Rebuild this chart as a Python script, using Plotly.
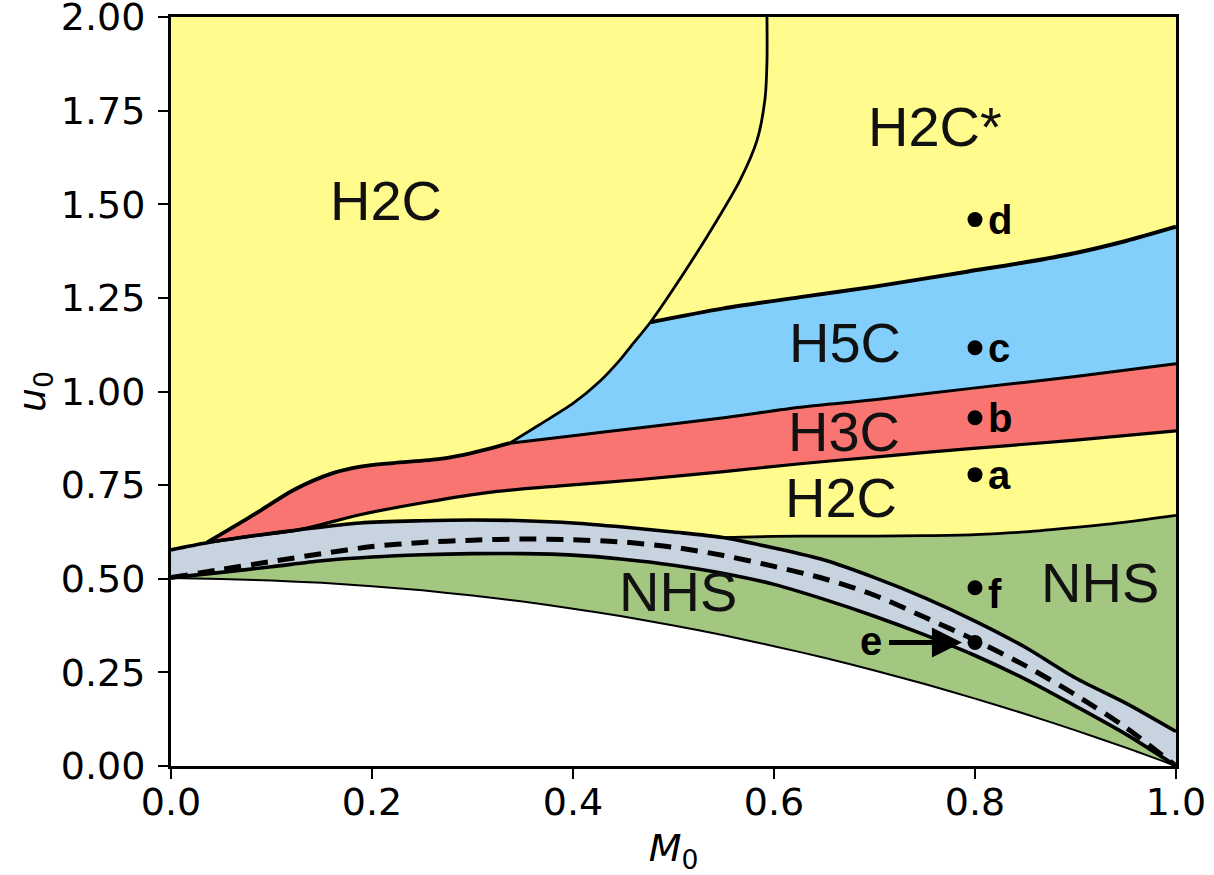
import plotly.graph_objects as go

# ---------------- data ----------------
# lower edge of NHS region (white below)
white_x = [0, 0.05, 0.1, 0.15, 0.2, 0.25, 0.3, 0.35, 0.4, 0.45, 0.5, 0.55, 0.6, 0.65, 0.7, 0.75, 0.8, 0.85, 0.9, 0.95, 1.0]
white_y = [0.502, 0.499, 0.495, 0.489, 0.48, 0.469, 0.455, 0.439, 0.42, 0.399, 0.375, 0.349, 0.32, 0.289, 0.255, 0.219, 0.18, 0.139, 0.095, 0.049, 0.0]

# grey band: lower edge, dashed centre line, upper edge
glow_x = [0, 0.05, 0.1, 0.15, 0.2, 0.25, 0.3, 0.35, 0.4, 0.45, 0.5, 0.55, 0.6, 0.65, 0.7, 0.75, 0.8, 0.85, 0.9, 0.95, 1.0]
glow_y = [0.503, 0.517, 0.532, 0.548, 0.558, 0.564, 0.567, 0.567, 0.563, 0.552, 0.536, 0.514, 0.485, 0.445, 0.4, 0.35, 0.295, 0.232, 0.16, 0.085, 0.0]

dash_x = [0, 0.05, 0.1, 0.15, 0.2, 0.25, 0.3, 0.35, 0.4, 0.45, 0.5, 0.55, 0.6, 0.65, 0.7, 0.75, 0.8, 0.85, 0.9, 0.95, 1.0]
dash_y = [0.503, 0.525, 0.546, 0.567, 0.586, 0.597, 0.603, 0.606, 0.604, 0.598, 0.584, 0.562, 0.533, 0.5, 0.456, 0.397, 0.336, 0.268, 0.19, 0.103, 0.0]

gup_x = [0, 0.036, 0.08, 0.128, 0.188, 0.25, 0.3, 0.35, 0.4, 0.45, 0.5, 0.549, 0.6, 0.65, 0.7, 0.75, 0.8, 0.85, 0.9, 0.95, 1.0]
gup_y = [0.577, 0.596, 0.614, 0.631, 0.649, 0.655, 0.657, 0.655, 0.649, 0.638, 0.625, 0.61, 0.582, 0.55, 0.503, 0.449, 0.387, 0.317, 0.235, 0.168, 0.092]

# H2C / NHS boundary on the right
gtop_x = [0.549, 0.6, 0.65, 0.7, 0.75, 0.8, 0.85, 0.9, 0.95, 1.0]
gtop_y = [0.61, 0.613, 0.614, 0.614, 0.615, 0.618, 0.625, 0.637, 0.651, 0.669]

# H3C band
rlow_x = [0.036, 0.08, 0.128, 0.188, 0.255, 0.321, 0.387, 0.467, 0.55, 0.626, 0.7, 0.792, 0.9, 1.0]
rlow_y = [0.597, 0.614, 0.631, 0.671, 0.705, 0.732, 0.748, 0.765, 0.786, 0.807, 0.825, 0.847, 0.87, 0.895]

rup_x = [0.036, 0.06, 0.089, 0.122, 0.161, 0.19, 0.221, 0.268, 0.3, 0.337]
rup_y = [0.597, 0.635, 0.682, 0.737, 0.782, 0.800, 0.809, 0.820, 0.836, 0.862]

# H3C / H5C boundary
br_x = [0.337, 0.4, 0.467, 0.55, 0.626, 0.7, 0.792, 0.9, 1.0]
br_y = [0.862, 0.882, 0.903, 0.93, 0.958, 0.978, 1.007, 1.04, 1.074]

# H2C / (H5C, H2C*) boundary
bl_x = [0.337, 0.367, 0.40, 0.427, 0.447, 0.458, 0.477, 0.51, 0.543, 0.566, 0.583, 0.591, 0.593, 0.593]
bl_y = [0.862, 0.912, 0.968, 1.028, 1.085, 1.122, 1.185, 1.315, 1.456, 1.563, 1.67, 1.78, 1.88, 2.0]

# H5C / H2C* boundary
bup_x = [0.477, 0.55, 0.626, 0.7, 0.792, 0.85, 0.9, 0.95, 1.0]
bup_y = [1.185, 1.222, 1.252, 1.28, 1.32, 1.345, 1.37, 1.402, 1.44]

# sample points
pt_names = ["a", "b", "c", "d", "e", "f"]
pt_x = [0.8, 0.8, 0.8, 0.8, 0.8, 0.8]
pt_y = [0.778, 0.93, 1.117, 1.459, 0.33, 0.476]

# region labels
reg_text = ["H2C", "H2C*", "H5C", "H3C", "H2C", "NHS", "NHS"]
reg_x = [0.214, 0.76, 0.671, 0.67, 0.667, 0.504, 0.924]
reg_y = [1.51, 1.707, 1.13, 0.893, 0.716, 0.465, 0.489]

x_ticks = [0.0, 0.2, 0.4, 0.6, 0.8, 1.0]
y_ticks = [0.0, 0.25, 0.5, 0.75, 1.0, 1.25, 1.5, 1.75, 2.0]

# ---------------- colours ----------------
YELLOW = "#FFFB8C"
GREEN = "#A3C680"
GREY = "#C7D3DF"
RED = "#F97571"
BLUE = "#82CFFB"

fig = go.Figure()

def poly(xs, ys, color):
    fig.add_trace(go.Scatter(x=xs, y=ys, mode="lines", fill="toself", fillcolor=color,
                             line=dict(width=0, color=color), hoverinfo="skip", showlegend=False))

def line(xs, ys, width, dash="solid"):
    fig.add_trace(go.Scatter(x=xs, y=ys, mode="lines",
                             line=dict(color="black", width=width, dash=dash, shape="spline", smoothing=0.8),
                             hoverinfo="skip", showlegend=False))

# yellow background above the NHS lower edge
poly(white_x + [1.0, 0.0], white_y + [2.0, 2.0], YELLOW)
# green NHS
g_left = [(x, y) for x, y in zip(gup_x, gup_y) if x <= 0.549]
poly(white_x + gtop_x[::-1] + [p[0] for p in g_left][::-1],
     white_y + gtop_y[::-1] + [p[1] for p in g_left][::-1], GREEN)
# grey band
poly(glow_x + gup_x[::-1], glow_y + gup_y[::-1], GREY)
# red H3C
poly(rlow_x + br_x[::-1] + rup_x[::-1], rlow_y + br_y[::-1] + rup_y[::-1], RED)
# blue H5C
bl_low = [(x, y) for x, y in zip(bl_x, bl_y) if y <= 1.185]
poly(br_x + bup_x[::-1] + [p[0] for p in bl_low][::-1],
     br_y + bup_y[::-1] + [p[1] for p in bl_low][::-1], BLUE)

# boundary lines
line(white_x, white_y, 2)
line(gtop_x, gtop_y, 2.8)
line(glow_x, glow_y, 3.6)
line(gup_x, gup_y, 3.6)
line(dash_x, dash_y, 5, dash="17px,10px")
line(rlow_x, rlow_y, 3.2)
line(rup_x, rup_y, 3.8)
line(br_x, br_y, 3)
line(bl_x, bl_y, 2.8)
line(bup_x, bup_y, 4)

# sample points
fig.add_trace(go.Scatter(x=pt_x, y=pt_y, mode="markers",
                         marker=dict(color="black", size=15), hoverinfo="skip", showlegend=False))

LBL_FONT = "Liberation Sans, Arial, sans-serif"
for t, x, y in zip(reg_text, reg_x, reg_y):
    fig.add_annotation(x=x, y=y, text=t, showarrow=False, xanchor="center", yanchor="middle",
                       font=dict(family=LBL_FONT, size=56, color="#111111"))

for n, x, y in zip(pt_names, pt_x, pt_y):
    if n == "e":
        fig.add_annotation(x=0.697, y=y + 0.004, text="<b>e</b>", showarrow=False,
                           xanchor="center", yanchor="middle",
                           font=dict(family=LBL_FONT, size=40, color="black"))
        fig.add_annotation(x=0.787, y=y, ax=0.713, ay=y, xref="x", yref="y", axref="x", ayref="y",
                           text="", showarrow=True, arrowhead=2, arrowsize=1.2, arrowwidth=5,
                           arrowcolor="black")
    else:
        dy = -0.018 if n == "f" else 0.0
        fig.add_annotation(x=x + 0.011, y=y + dy, text="<b>%s</b>" % n, showarrow=False,
                           xanchor="left", yanchor="middle",
                           font=dict(family=LBL_FONT, size=40, color="black"))

TICK_FONT = dict(family="DejaVu Sans", size=38, color="black")
fig.update_xaxes(range=[0, 1], tickvals=x_ticks, ticktext=["%.1f" % v for v in x_ticks],
                 showgrid=False, zeroline=False, showline=True, linecolor="black", linewidth=3,
                 mirror=True, ticks="outside", ticklen=10, tickwidth=2, tickcolor="black",
                 tickfont=TICK_FONT, ticklabelstandoff=-10, ticklabeloverflow="allow", automargin=False,
                 title=dict(text="<i>M</i><sub>0</sub>", font=dict(family="DejaVu Sans", size=38, color="black"),
                            standoff=14))
fig.update_yaxes(range=[0, 2], tickvals=y_ticks, ticktext=["%.2f" % v for v in y_ticks],
                 showgrid=False, zeroline=False, showline=True, linecolor="black", linewidth=3,
                 mirror=True, ticks="outside", ticklen=10, tickwidth=2, tickcolor="black",
                 tickfont=TICK_FONT, ticklabelstandoff=5, ticklabeloverflow="allow", automargin=False,
                 title=dict(text="<i>u</i><sub>0</sub>", font=dict(family="DejaVu Sans", size=38, color="black"),
                            standoff=4))

fig.update_layout(width=1214, height=875, margin=dict(l=171, r=38, t=17, b=109),
                  plot_bgcolor="white", paper_bgcolor="white", showlegend=False)

fig.write_html("out.html", config={"displayModeBar": False},
               post_script="document.body.style.margin='0px';document.body.style.overflow='hidden';")
